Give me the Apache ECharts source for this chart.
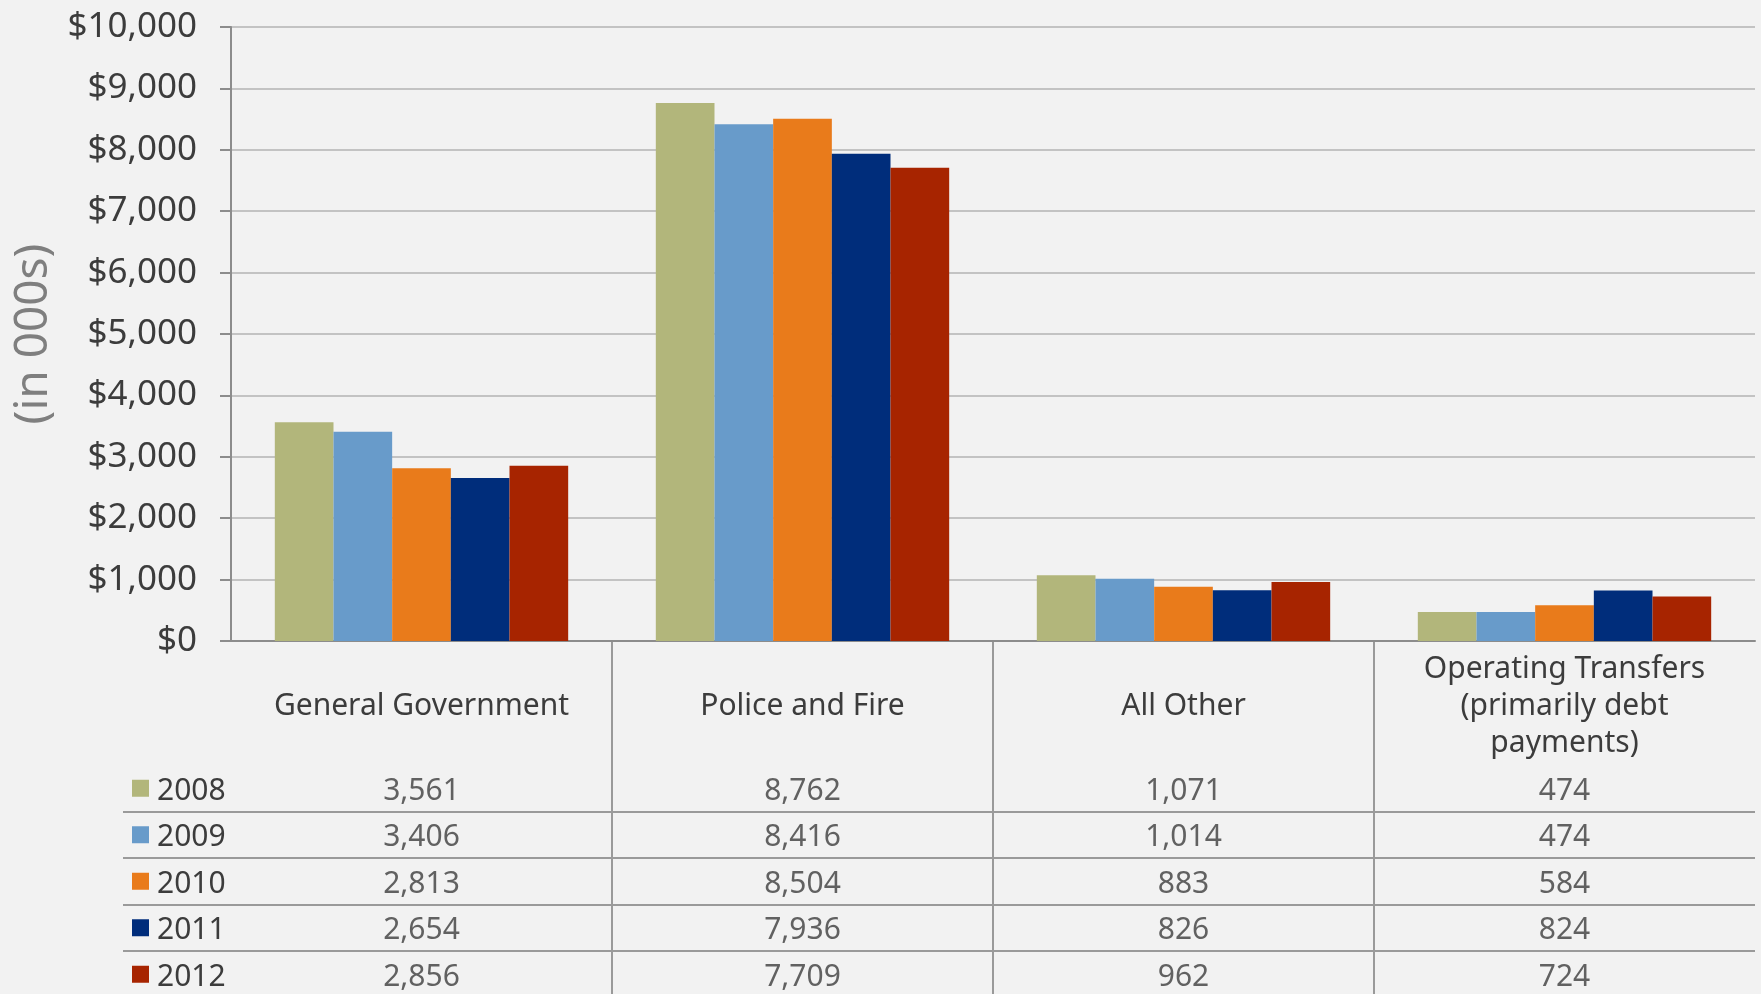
<!DOCTYPE html>
<html>
<head>
<meta charset="utf-8">
<script src="https://cdn.jsdelivr.net/npm/echarts@6/dist/echarts.min.js"></script>
<style>
  html, body {margin: 0; padding: 0; background: #f2f2f2;}
  #main {width: 1761px; height: 994px;}
</style>
</head>
<body>
<div id="main"></div>
<script>
var categories = ["General Government", "Police and Fire", "All Other", "Operating Transfers\n(primarily debt\npayments)"];
var years = ["2008", "2009", "2010", "2011", "2012"];
var v2008 = [3561, 8762, 1071, 474];
var v2009 = [3406, 8416, 1014, 474];
var v2010 = [2813, 8504, 883, 584];
var v2011 = [2654, 7936, 826, 824];
var v2012 = [2856, 7709, 962, 724];
var yTicks = [0, 10000, 1000];

var values = [v2008, v2009, v2010, v2011, v2012];
var colors = ["#b2b67b", "#689bca", "#e97b1b", "#002d7b", "#a72400"];
var font = "'Noto Sans', sans-serif";
var txt = "#3c3c3c";
var lineGray = "#9a9a9a";

function fmt(n) {
  return n.toLocaleString("en-US");
}

// the table grids carry one blank trailing slot so the closing border falls off the page
var colSlots = categories.concat([""]);
var rowSlots = years.concat([""]);

function innerCol(i) {
  return i !== 0 && i !== categories.length;
}
function innerRow(i) {
  return i !== 0 && i !== years.length;
}

var barSeries = years.map(function (y, i) {
  return {
    name: y,
    type: "bar",
    xAxisIndex: 0,
    yAxisIndex: 0,
    data: values[i],
    barGap: 0,
    barCategoryGap: "23%",
    itemStyle: {color: colors[i]},
    silent: true
  };
});

// table cells: [category, year row, value]
var cells = [];
values.forEach(function (row, r) {
  row.forEach(function (v, c) {
    cells.push([c, r, v]);
  });
});

var rich = {y: {fontFamily: font, fontSize: 30, color: txt, padding: [6, 0, 0, 8]}};
colors.forEach(function (c, i) {
  rich["s" + i] = {backgroundColor: c, width: 17, height: 17};
});

var option = {
  backgroundColor: "#f2f2f2",
  animation: false,
  textStyle: {fontFamily: font},
  grid: [
    {left: 231, right: 6, top: 27, height: 614, outerBoundsMode: "none"},
    {left: 231, top: 641, width: 1905, height: 400, outerBoundsMode: "none"},
    {left: 231, right: 6, top: 765, height: 279, outerBoundsMode: "none"}
  ],
  xAxis: [{
    type: "category",
    gridIndex: 0,
    data: categories,
    axisLine: {show: true, lineStyle: {color: "#8c8c8c", width: 2}},
    axisTick: {show: false},
    axisLabel: {
      show: true, interval: 0, margin: 65, verticalAlign: "middle",
      fontFamily: font, fontSize: 30, lineHeight: 37, color: txt, align: "center"
    },
    splitLine: {show: false}
  }, {
    type: "category",
    gridIndex: 1,
    data: colSlots,
    axisLine: {show: false},
    axisTick: {show: false},
    axisLabel: {show: false},
    splitLine: {show: true, interval: innerCol, lineStyle: {color: lineGray, width: 2}}
  }, {
    type: "category",
    gridIndex: 2,
    data: categories,
    axisLine: {show: false},
    axisTick: {show: false},
    axisLabel: {show: false},
    splitLine: {show: false}
  }],
  yAxis: [{
    type: "value",
    gridIndex: 0,
    min: yTicks[0],
    max: yTicks[1],
    interval: yTicks[2],
    name: "(in 000s)",
    nameLocation: "middle",
    nameGap: 172,
    nameTextStyle: {fontFamily: font, fontSize: 46, color: "#7f7f7f"},
    axisLine: {show: true, lineStyle: {color: "#8c8c8c", width: 2}},
    axisTick: {show: true, length: 11, lineStyle: {color: "#8c8c8c", width: 2}},
    axisLabel: {
      margin: 34, fontFamily: font, fontSize: 35, color: txt,
      formatter: function (v) { return "$" + fmt(v); }
    },
    splitLine: {show: true, lineStyle: {color: "#c3c3c3", width: 2}}
  }, {
    type: "value",
    gridIndex: 1,
    show: false,
    splitLine: {show: false}
  }, {
    type: "category",
    gridIndex: 2,
    inverse: true,
    data: rowSlots,
    axisLine: {show: false},
    axisTick: {show: true, length: 108, interval: innerRow, lineStyle: {color: lineGray, width: 2}},
    axisLabel: {
      show: true, interval: 0, align: "left", margin: 99,
      formatter: function (v, i) { return v ? "{s" + i + "|}{y|" + v + "}" : ""; },
      rich: rich
    },
    splitLine: {show: true, interval: innerRow, lineStyle: {color: lineGray, width: 2}}
  }],
  series: barSeries.concat([{
    type: "scatter",
    xAxisIndex: 2,
    yAxisIndex: 2,
    data: cells,
    symbolSize: 1,
    itemStyle: {color: "rgba(0,0,0,0)"},
    silent: true,
    label: {
      show: true, position: "inside", offset: [0, 3],
      fontFamily: font, fontSize: 30, color: txt,
      formatter: function (p) { return fmt(p.value[2]); }
    }
  }])
};

var chart = echarts.init(document.getElementById("main"));
chart.setOption(option);
</script>
</body>
</html>
